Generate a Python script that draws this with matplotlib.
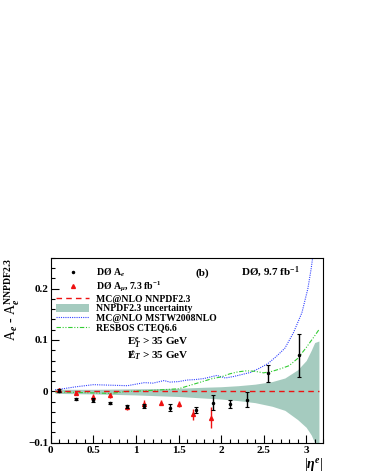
import numpy as np
import matplotlib
matplotlib.use("Agg")
import matplotlib.pyplot as plt
from matplotlib.ticker import MultipleLocator, FuncFormatter
from matplotlib.lines import Line2D
from matplotlib.patches import Patch

plt.rcParams['font.family'] = ['Liberation Serif', 'DejaVu Serif']
plt.rcParams['font.weight'] = 'bold'
plt.rcParams['mathtext.fontset'] = 'custom'
plt.rcParams['mathtext.rm'] = 'Liberation Serif:bold'
plt.rcParams['mathtext.it'] = 'Liberation Serif:italic:bold'
plt.rcParams['mathtext.bf'] = 'Liberation Serif:bold'

# D0 electron asymmetry minus NNPDF2.3 prediction
eta_e = [0.1, 0.3, 0.5, 0.7, 0.9, 1.1, 1.4, 1.7, 1.9, 2.1, 2.3, 2.55, 2.92]
dA_e = [0.001, -0.014, -0.016, -0.022, -0.029, -0.029, -0.032, -0.036, -0.022, -0.025, -0.016, 0.035, 0.070]
err_e = [0.003, 0.002, 0.004, 0.002, 0.003, 0.004, 0.007, 0.006, 0.015, 0.008, 0.014, 0.017, 0.042]

# D0 muon asymmetry 7.3 fb-1
eta_mu = [0.1, 0.3, 0.5, 0.7, 0.9, 1.1, 1.3, 1.5, 1.67, 1.88]
dA_mu = [0.002, -0.004, -0.011, -0.008, -0.031, -0.025, -0.022, -0.025, -0.045, -0.051]
err_mu = [0.004, 0.004, 0.006, 0.005, 0.005, 0.008, 0.005, 0.006, 0.010, 0.021]

# NNPDF2.3 uncertainty band
eta_band = [0.05, 0.5, 1.0, 1.5, 1.8, 2.0, 2.2, 2.4, 2.6, 2.75, 2.9, 3.0, 3.06, 3.1, 3.15]
band_hi = [0.004, 0.004, 0.005, 0.006, 0.008, 0.009, 0.011, 0.014, 0.019, 0.026, 0.042, 0.060, 0.080, 0.095, 0.098]
band_lo = [-0.004, -0.005, -0.007, -0.010, -0.013, -0.015, -0.018, -0.022, -0.029, -0.037, -0.055, -0.070, -0.085, -0.100, -0.100]

# MC@NLO MSTW2008NLO
eta_mstw = [0.05, 0.1, 0.3, 0.5, 0.7, 0.9, 1.1, 1.2, 1.33, 1.4, 1.5, 1.6, 1.7, 1.8, 1.95, 2.05,
            2.15, 2.25, 2.35, 2.45, 2.55, 2.65, 2.75, 2.85, 2.95, 3.02, 3.06, 3.1]
dA_mstw = [0.003, 0.004, 0.009, 0.013, 0.012, 0.011, 0.017, 0.016, 0.021, 0.018, 0.019, 0.022, 0.023,
           0.025, 0.031, 0.026, 0.029, 0.033, 0.037, 0.045, 0.054, 0.068, 0.084, 0.114, 0.153, 0.200,
           0.240, 0.290]

# RESBOS CTEQ6.6
eta_resbos = [0.05, 0.3, 0.5, 0.7, 0.9, 1.1, 1.3, 1.5, 1.6, 1.7, 1.8, 1.9, 2.0, 2.1, 2.2, 2.3,
              2.4, 2.5, 2.6, 2.7, 2.8, 2.9, 3.0, 3.1, 3.15]
dA_resbos = [-0.001, -0.002, -0.003, -0.004, 0.0, 0.001, 0.003, 0.005, 0.010, 0.015, 0.020, 0.025,
             0.028, 0.034, 0.038, 0.040, 0.039, 0.036, 0.039, 0.044, 0.050, 0.064, 0.085, 0.108, 0.120]

fig = plt.figure(figsize=(3.66, 4.73), dpi=100)
ax = fig.add_axes([0.139, 0.064, 0.744, 0.391])

band_col = '#a5cbbf'
ax.fill_between(eta_band, band_lo, band_hi, color=band_col, lw=0, zorder=1)
ax.plot([0.05, 3.15], [0, 0], color='#ee1111', ls=(0, (4, 3)), lw=1.0, zorder=3)
ax.plot(eta_mstw, dA_mstw, color='#3344ff', ls=(0, (1, 1)), lw=0.8, zorder=2)
ax.plot(eta_resbos, dA_resbos, color='#33cc33', ls=(0, (4, 1.5, 1, 1.5, 1, 1.5)), lw=0.8, zorder=2)

ax.errorbar(eta_mu, dA_mu, yerr=err_mu, fmt='^', color='#ee1111', ms=2.8, elinewidth=1.0,
            capsize=0, zorder=4)
ax.errorbar(eta_e, dA_e, yerr=err_e, fmt='o', color='black', ms=1.5, elinewidth=1.0,
            capsize=1.2, capthick=0.8, zorder=5)

ax.set_xlim(0, 3.2)
ax.set_ylim(-0.1, 0.26)
ax.xaxis.set_major_locator(MultipleLocator(0.5))
ax.xaxis.set_minor_locator(MultipleLocator(0.1))
ax.yaxis.set_major_locator(MultipleLocator(0.1))
ax.yaxis.set_minor_locator(MultipleLocator(0.02))
fmt = FuncFormatter(lambda v, p: ('%g' % round(v, 3)).replace('-', '\u2212'))
ax.xaxis.set_major_formatter(fmt)
ax.yaxis.set_major_formatter(fmt)
ax.tick_params(which='both', direction='in', top=False, right=False, labelsize=8, pad=2)
ax.tick_params(which='major', length=6, width=0.8)
ax.tick_params(which='minor', length=3, width=0.8)
for s in ax.spines.values():
    s.set_linewidth(0.8)

ax.set_ylabel(r'A$_e$ - A$_e^{\rm NNPDF2.3}$', fontsize=10, loc='top', labelpad=4)
ax.set_xlabel(r'|$\eta^e$|', fontsize=10, loc='right', labelpad=1)

handles = [
    Line2D([], [], color='black', marker='o', ms=1.5, ls='none'),
    Line2D([], [], color='#ee1111', marker='^', ms=2.8, ls='none'),
    Line2D([], [], color='#ee1111', ls=(0, (4, 3)), lw=1.0),
    Patch(facecolor=band_col, edgecolor='none'),
    Line2D([], [], color='#3344ff', ls=(0, (1, 1)), lw=0.8),
    Line2D([], [], color='#33cc33', ls=(0, (4, 1.5, 1, 1.5, 1, 1.5)), lw=0.8),
]
labels = [r'DØ A$_e$', r'DØ A$_\mu$, 7.3 fb$^{-1}$', 'MC@NLO NNPDF2.3',
          'NNPDF2.3 uncertainty', 'MC@NLO MSTW2008NLO', 'RESBOS CTEQ6.6']
ax.legend(handles, labels, loc='upper left', bbox_to_anchor=(0.02, 0.951), frameon=False,
          fontsize=7, handlelength=3.4, handleheight=1.0, handletextpad=0.7, labelspacing=0.0,
          borderaxespad=0, borderpad=0)

ax.text(0.89, 0.094, r'E$_T^e$ > 35 GeV', fontsize=8, va='center')
ax.text(0.89, 0.070, r'E$_T$ > 35 GeV', fontsize=8, va='center')
# slash through the E for missing transverse energy
ax.text(0.935, 0.071, '/', fontsize=9, va='center', ha='center')
ax.text(1.70, 0.225, '(b)', fontsize=8)
ax.text(2.24, 0.225, r'DØ, 9.7 fb$^{-1}$', fontsize=8)

fig.savefig('out.png', dpi=100)
